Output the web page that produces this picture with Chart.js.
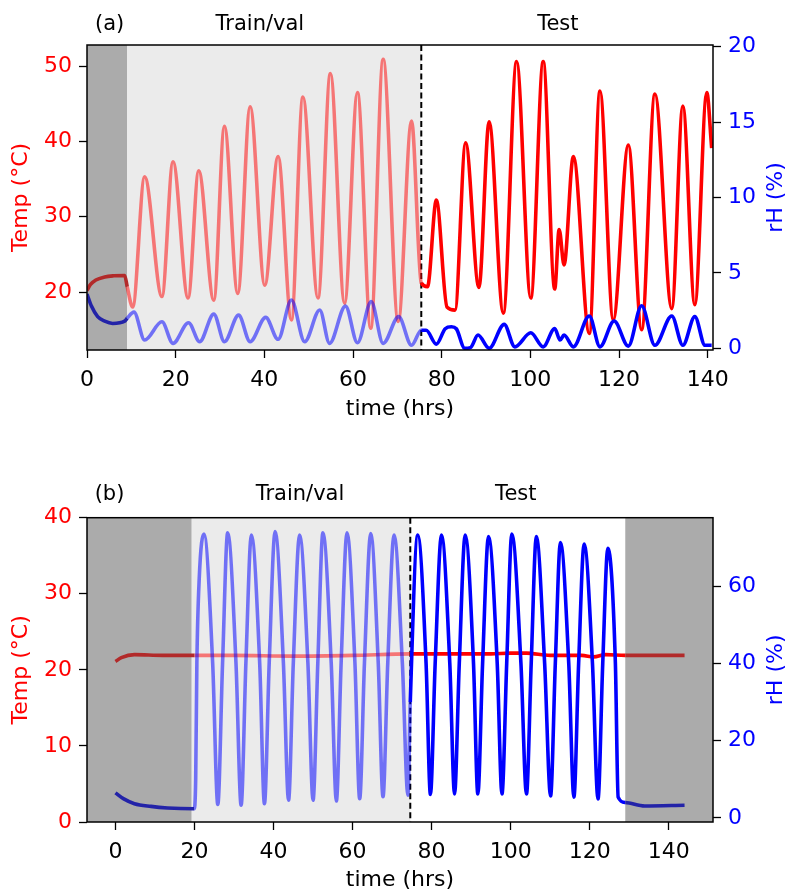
<!DOCTYPE html>
<html>
<head>
<meta charset="utf-8">
<script src="https://cdn.jsdelivr.net/npm/chart.js@4.4.1/dist/chart.umd.min.js"></script>
<style>
  body { margin: 0; background: #fff; overflow: hidden; }
  .panel { position: absolute; left: 0; }
</style>
</head>
<body>
<div class="panel" style="top:0"><canvas id="chartA" width="785" height="422"></canvas></div>
<div class="panel" style="top:445px"><canvas id="chartB" width="785" height="445"></canvas></div>
<script>
// ---- panel (a): cycling temperature, low humidity ----
const aTempHrs = [0, 0.8, 2, 4, 6, 8.5, 9.07,
  10.3, 13.0, 16.9, 19.4, 22.8, 25.2, 28.6, 31.0, 34.0, 36.8, 40.1, 43.1, 46.1, 48.7,
  52.1, 54.9, 58.1, 61.0, 64.0, 66.8, 70.2, 73.2, 75.4,
  76.8, 78.8, 81.2, 83.0, 85.4, 88.4, 90.7, 93.9, 96.9, 100.1, 102.9, 105.5, 106.5, 107.6,
  109.7, 113.3, 115.7, 118.7, 122.1, 125.1, 128.1, 131.9, 134.4, 137.1, 139.8, 140.9];
const aTemp = [20.2, 21.0, 21.6, 22.0, 22.15, 22.2, 20.7,
  18.0, 35.3, 19.4, 37.3, 19.2, 36.1, 18.9, 42.0, 19.8, 44.6, 20.9, 38.0, 16.3, 45.9,
  19.2, 49.0, 18.5, 46.5, 15.2, 50.9, 16.1, 42.7, 21.2,
  20.7, 32.2, 18.0, 17.6, 39.8, 20.6, 42.6, 17.2, 50.6, 19.2, 50.6, 20.4, 28.3, 23.6,
  38.0, 14.5, 46.7, 16.3, 39.5, 15.0, 46.3, 17.8, 44.7, 18.3, 46.5, 39.1];
const aRhHrs = [0, 1, 2.4, 4, 5.8, 8.5, 9.07,
  10.6, 13.0, 16.9, 19.4, 22.9, 25.4, 28.6, 31.0, 34.2, 36.8, 40.3, 43.1, 46.1, 49.1,
  52.5, 54.7, 58.3, 61.0, 64.1, 66.8, 70.3, 73.2, 75.4,
  76.5, 78.8, 80.8, 82.2, 83.3, 85.2, 86.5, 88.2, 90.7, 94.1, 96.5, 100.1, 102.9, 105.5,
  106.7, 107.6, 109.7, 113.3, 115.7, 118.9, 122.1, 125.1, 128.1, 131.9, 134.4, 137.1, 139.4, 140.9];
const aRh = [3.6, 2.8, 2.1, 1.8, 1.65, 1.8, 2.0,
  2.4, 0.55, 1.76, 0.33, 1.7, 0.44, 2.27, 0.44, 2.2, 0.44, 2.05, 0.6, 3.2, 0.44,
  2.54, 0.33, 2.8, 0.37, 3.1, 0.33, 2.1, 0.2, 1.2,
  1.2, 0.28, 1.3, 1.43, 1.3, 0.0, 0.05, 0.88, 0.0, 1.59, 0.1, 1.03, 0.1, 1.32,
  0.55, 0.88, 0.1, 2.14, 0.1, 1.81, 0.15, 2.82, 0.2, 2.14, 0.2, 2.1, 0.2, 0.2];

// ---- panel (b): constant temperature, cycling humidity ----
const bTempHrs = [0, 1.5, 4.8, 12, 20, 30, 45, 60, 74.6, 85, 95, 100, 104, 110, 118, 121, 124, 129, 135, 144];
const bTemp = [21.1, 21.6, 22.0, 21.9, 21.9, 21.9, 21.8, 21.9, 22.1, 22.1, 22.1, 22.2, 22.2, 21.9, 21.9, 21.7, 22.0, 21.9, 21.9, 21.9];
const bRhHrs = [0, 2, 4.8, 9, 13.2, 19.9, 20.3, 20.6, 21.2, 22.4,
  24.6, 25.9, 27.1, 28.4, 30.5, 31.8, 33.0, 34.4, 36.5, 37.7, 38.9, 40.4, 42.5, 43.8, 45.0,
  46.6, 48.7, 50.0, 51.2, 52.5, 54.6, 55.9, 57.1, 58.6, 60.6, 61.8, 63.0, 64.6, 66.5, 67.7, 68.9,
  70.5, 72.6, 74.0, 74.6,
  76.5, 78.6, 79.7, 80.9, 82.5, 84.6, 85.8, 87.0, 88.5, 90.6, 91.7, 92.9, 94.4, 96.6, 97.8, 99.0,
  100.3, 102.6, 104.0, 105.2, 106.5, 108.6, 110.1, 111.3, 112.6, 114.7, 116.0, 117.2,
  118.6, 120.7, 122.1, 123.3, 124.6, 126.5, 127.2, 129.0, 133.9, 144];
const bRh = [6.5, 5.0, 3.7, 3.0, 2.6, 2.4, 10, 40, 62, 73.5,
  40, 3.5, 40, 73.8, 40, 3.3, 40, 73.2, 40, 3.7, 40, 74.1, 40, 4.6, 40,
  73.2, 40, 4.6, 40, 73.8, 40, 4.4, 40, 73.8, 40, 5.0, 40, 73.6, 40, 5.5, 40,
  73.2, 40, 5.9, 30,
  73.2, 40, 6.1, 40, 73.2, 40, 6.2, 40, 73.2, 40, 6.2, 40, 72.8, 40, 6.2, 40,
  73.5, 40, 6.2, 40, 72.8, 40, 5.7, 40, 71.3, 40, 5.4, 40,
  70.9, 40, 4.9, 40, 69.8, 40, 5.4, 4.0, 3.1, 3.3];

const xTicks = [0, 20, 40, 60, 80, 100, 120, 140];
const aTempTicks = [20, 30, 40, 50];
const aRhTicks = [0, 5, 10, 15, 20];
const bTempTicks = [0, 10, 20, 30, 40];
const bRhTicks = [0, 20, 40, 60];

const fontFamily = '"DejaVu Sans", sans-serif';
const font = { family: fontFamily, size: 22 };
const darkRed = '#b22a2a', lightRed = 'rgba(255,0,0,0.5)', red = '#ff0000';
const darkBlue = '#2323a8', lightBlue = 'rgba(0,0,255,0.52)', blue = '#0000ff';
const darkGray = '#ababab', lightGray = '#ebebeb';

const pts = (hrs, vals) => hrs.map((h, i) => ({ x: h, y: vals[i] }));

// colour each segment by the region its midpoint falls in
const byRegion = (splits, colors) => ctx => {
  const mid = (ctx.p0.parsed.x + ctx.p1.parsed.x) / 2;
  let i = 0;
  while (i < splits.length && mid > splits[i]) i++;
  return colors[i];
};

const line = (data, axis, splits, colors) => ({
  data, yAxisID: axis,
  borderWidth: 3.6,
  pointRadius: 0,
  cubicInterpolationMode: 'monotone',
  segment: { borderColor: byRegion(splits, colors) },
  borderColor: colors[0],
});

const tickGrid = { drawOnChartArea: false, tickLength: 8, tickColor: '#000', tickWidth: 1.3 };

function xAxis(min, max, height, titlePad) {
  return {
    type: 'linear', min, max,
    afterBuildTicks: s => { s.ticks = xTicks.map(v => ({ value: v })); },
    afterFit: s => { s.height = height; },
    grid: tickGrid,
    border: { display: false },
    ticks: { color: '#000', font, padding: 9, maxRotation: 0 },
    title: { display: true, text: 'time (hrs)', color: '#000', font, padding: { top: 0, bottom: titlePad } },
  };
}

function yAxis(pos, min, max, ticks, color, width, title) {
  const s = {
    type: 'linear', position: pos, min, max,
    afterBuildTicks: sc => { sc.ticks = ticks.map(v => ({ value: v })); },
    afterFit: sc => { sc.width = width; },
    grid: tickGrid,
    border: { display: false },
    ticks: { color, font, padding: 7 },
  };
  if (title) s.title = { display: true, text: title, color, font, padding: { top: 8, bottom: 0 } };
  return s;
}

const panelPlugin = {
  id: 'panel',
  beforeDatasetsDraw(chart, args, o) {
    const { ctx, chartArea: a, scales: { x } } = chart;
    ctx.save();
    for (const b of o.bands) {
      const x0 = Math.max(a.left, x.getPixelForValue(b.from));
      const x1 = Math.min(a.right, x.getPixelForValue(b.to));
      ctx.fillStyle = b.color;
      ctx.fillRect(x0, a.top, x1 - x0, a.bottom - a.top);
    }
    // train/test split
    const sx = x.getPixelForValue(o.split);
    ctx.strokeStyle = '#000';
    ctx.lineWidth = 2;
    ctx.setLineDash([6, 3.5]);
    ctx.beginPath();
    ctx.moveTo(sx, a.top);
    ctx.lineTo(sx, a.bottom);
    ctx.stroke();
    ctx.restore();
  },
  afterDatasetsDraw(chart, args, o) {
    const { ctx, chartArea: a, scales: { x } } = chart;
    ctx.save();
    ctx.strokeStyle = '#000';
    ctx.lineWidth = 1.5;
    ctx.strokeRect(a.left, a.top, a.right - a.left, a.bottom - a.top);
    ctx.font = `21px ${fontFamily}`;
    ctx.fillStyle = '#000';
    ctx.textAlign = 'center';
    ctx.textBaseline = 'middle';
    for (const h of o.headings) ctx.fillText(h.text, x.getPixelForValue(h.at), a.top - o.gap);
    // right axis title reads bottom-to-top like matplotlib
    ctx.font = `22px ${fontFamily}`;
    ctx.translate(chart.width - 9, (a.top + a.bottom) / 2);
    ctx.rotate(-Math.PI / 2);
    ctx.fillStyle = blue;
    ctx.fillText('rH (%)', 0, 0);
    ctx.restore();
  }
};

const ctxA = document.getElementById('chartA').getContext('2d');
new Chart(ctxA, {
  type: 'line',
  data: {
    datasets: [
      line(pts(aRhHrs, aRh), 'y1', [9.07, 75.4], [darkBlue, lightBlue, blue]),
      line(pts(aTempHrs, aTemp), 'y', [9.07, 75.4], [darkRed, lightRed, red]),
    ]
  },
  options: {
    responsive: false,
    animation: false,
    devicePixelRatio: 1,
    layout: { padding: { top: 45, left: 0, right: 0, bottom: 0 } },
    plugins: {
      legend: { display: false },
      tooltip: { enabled: false },
      panel: {
        bands: [{ from: 0, to: 9.07, color: darkGray }, { from: 9.07, to: 75.4, color: lightGray }],
        split: 75.4,
        gap: 20,
        headings: [{ text: '(a)', at: 5.1 }, { text: 'Train/val', at: 39.0 }, { text: 'Test', at: 106.2 }],
      }
    },
    scales: {
      x: xAxis(0, 141.2, 72, 0),
      y: yAxis('left', 12.3, 52.8, aTempTicks, red, 87, 'Temp (°C)'),
      y1: yAxis('right', -0.11, 20.11, aRhTicks, blue, 72),
    }
  },
  plugins: [panelPlugin]
});

const ctxB = document.getElementById('chartB').getContext('2d');
new Chart(ctxB, {
  type: 'line',
  data: {
    datasets: [
      line(pts(bRhHrs, bRh), 'y1', [20, 74.6, 129], [darkBlue, lightBlue, blue, darkBlue]),
      line(pts(bTempHrs, bTemp), 'y', [20, 74.6, 129], [darkRed, lightRed, red, darkRed]),
    ]
  },
  options: {
    responsive: false,
    animation: false,
    devicePixelRatio: 1,
    layout: { padding: { top: 72.7, left: 0, right: 0, bottom: 0 } },
    plugins: {
      legend: { display: false },
      tooltip: { enabled: false },
      panel: {
        bands: [
          { from: -7.2, to: 19.3, color: darkGray },
          { from: 19.3, to: 74.6, color: lightGray },
          { from: 129, to: 151.2, color: darkGray }
        ],
        split: 74.6,
        gap: 22.7,
        headings: [{ text: '(b)', at: -1.5 }, { text: 'Train/val', at: 46.7 }, { text: 'Test', at: 101.3 }],
      }
    },
    scales: {
      x: xAxis(-7.2, 151.2, 68, -3),
      y: yAxis('left', 0, 40, bTempTicks, red, 87, 'Temp (°C)'),
      y1: yAxis('right', -1.04, 77.7, bRhTicks, blue, 72),
    }
  },
  plugins: [panelPlugin]
});
</script>
</body>
</html>
